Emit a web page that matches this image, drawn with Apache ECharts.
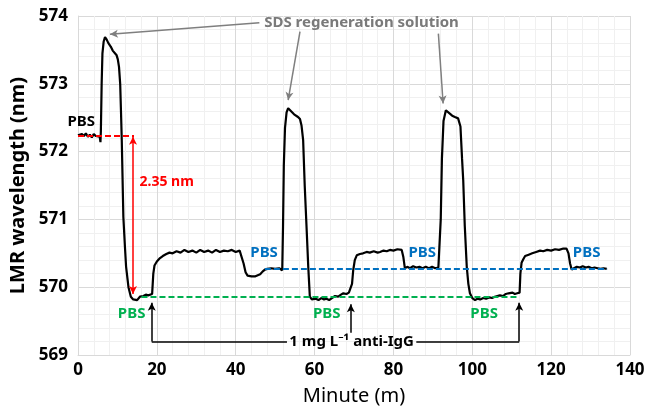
<!DOCTYPE html>
<html>
<head>
<meta charset="utf-8">
<script src="https://cdn.jsdelivr.net/npm/echarts@6/dist/echarts.min.js"></script>
<style>
html,body{margin:0;padding:0;background:#fff;}
#chart{width:645px;height:406px;}
</style>
</head>
<body>
<div id="chart"></div>
<script>
// ---- data ----
const minutes = [0,0.5,1,1.5,2,2.5,3,3.5,4,4.5,5,5.5,5.7,5.8,6.0,6.2,6.5,6.85,7.2,7.7,8.3,8.8,9.3,9.8,10.1,10.4,10.7,10.9,11.1,11.5,11.9,12.2,12.8,13.4,14.0,14.5,15.0,15.7,16.2,16.6,17.2,17.8,18.3,18.8,19.1,19.4,20.0,20.8,21.5,22.4,23.2,24,25,26,27,28,29,30,31,32,33,34,35,36,37,38,39,40,41,41.5,42.0,42.5,43.0,43.5,44,44.5,45,45.5,46.2,46.8,47.4,48,48.5,49,49.5,50,50.5,51,51.5,51.8,52.0,52.2,52.5,52.9,53.3,53.8,54.3,54.8,55.3,55.8,56.3,56.7,57.1,57.5,58.0,58.4,58.8,59.3,59.7,60.3,61,61.7,62.4,63,63.7,64.4,65.2,66,66.7,67.3,68.1,68.7,69.2,69.5,69.8,70.2,70.7,71.5,72.3,73.2,74,75,76,76.6,77.5,78.3,79.1,80,81,82.1,82.5,82.9,83.5,84.2,85,85.8,86.6,87.4,88.2,89,89.8,90.6,91.4,91.8,92.0,92.3,92.7,93.3,93.8,94.3,94.9,95.6,96.4,97.0,97.4,97.7,98.1,98.6,99.0,99.4,100.0,100.7,101.3,102,102.8,103.5,104.3,105,105.7,106.2,107,107.8,108.5,109.2,109.6,110.2,110.8,111.4,112.0,112.2,112.5,113.0,113.4,114.3,115.2,116.2,117.2,118,119,120,121,122,123.1,123.9,124.4,124.8,125.2,125.8,126.5,127.3,128,128.8,129.5,130.3,131,131.8,132.5,133.3,134.1];
const wavelength = [572.24,572.22,572.26,572.23,572.27,572.22,572.25,572.21,572.26,572.23,572.25,572.22,572.14,572.3,573.0,573.45,573.62,573.69,573.66,573.6,573.55,573.49,573.47,573.42,573.36,573.25,573.0,572.6,572.17,571.04,570.6,570.30,570.0,569.86,569.82,569.80,569.81,569.86,569.88,569.87,569.89,569.88,569.89,569.9,570.2,570.32,570.38,570.43,570.46,570.49,570.51,570.5,570.53,570.51,570.55,570.52,570.54,570.51,570.55,570.52,570.54,570.51,570.55,570.52,570.54,570.53,570.55,570.52,570.54,570.52,570.35,570.22,570.17,570.15,570.16,570.14,570.16,570.17,570.19,570.23,570.26,570.27,570.25,570.28,570.26,570.27,570.25,570.28,570.26,570.25,570.9,571.8,572.35,572.58,572.64,572.61,572.58,572.55,572.53,572.51,572.48,572.38,572.17,571.5,570.84,570.3,569.86,569.82,569.81,569.83,569.81,569.84,569.82,569.83,569.81,569.84,569.87,569.86,569.89,569.91,569.9,569.92,569.91,570.05,570.25,570.4,570.47,570.49,570.5,570.52,570.51,570.53,570.51,570.52,570.54,570.53,570.55,570.54,570.56,570.55,570.45,570.28,570.3,570.28,570.31,570.29,570.3,570.28,570.3,570.28,570.3,570.28,570.29,570.3,571.0,571.9,572.45,572.61,572.59,572.56,572.53,572.51,572.49,572.37,571.9,571.58,570.9,570.30,570.05,569.91,569.84,569.81,569.83,569.82,569.84,569.83,569.85,569.84,569.86,569.86,569.88,569.87,569.9,569.91,569.93,569.92,569.9,569.91,569.92,570.2,570.36,570.42,570.46,570.48,570.5,570.52,570.54,570.53,570.55,570.54,570.56,570.55,570.57,570.57,570.5,570.35,570.26,570.28,570.3,570.29,570.31,570.29,570.3,570.28,570.29,570.28,570.27,570.28,570.27];

// axis ticks
const xTicks = [0,20,40,60,80,100,120,140];
const yTicks = [569,570,571,572,573,574];

// annotation anchors (data units)
const pbsBlackLabel = [[0.8,572.44]];
const pbsGreenLabels = [[13.6,569.61],[63.1,569.61],[103.0,569.61]];
const pbsBlueLabels = [[47.2,570.51],[87.3,570.51],[129.0,570.51]];
const redBaseline = [[0,572.24],[14.2,572.24]];
const shiftArrow = [[13.95,572.22],[13.95,569.9]];
const shiftLabel = [15.6,571.55];
const greenBaseline = [[16.1,569.86],[111.6,569.86]];
const blueBaseline = [[47.4,570.27],[134.2,570.27]];
const sdsLabel = [71.9,573.9];
const sdsArrows = [[[46.0,573.9],[8.1,573.73]],[[56.3,573.77],[53.3,572.76]],[[91.4,573.74],[92.6,572.71]]];
const iggLabel = [69.4,569.2];
const iggBracket = [[53.0,569.2],[18.7,569.2],[85.8,569.2],[111.9,569.2]];
const iggArrows = [[[18.7,569.2],[18.7,569.77]],[[69.2,569.33],[69.2,569.75]],[[111.9,569.2],[111.9,569.77]]];

const FONT = 'Noto Sans';
const curve = minutes.map((m,i)=>[m,wavelength[i]]);

function textPoint(coord, text, color, size, align){
  return {coord: coord, symbol:'circle', symbolSize:0.01,
    label:{show:true, formatter:text, position:'inside', align: align||'center', verticalAlign:'middle',
      color: color, fontSize: size, fontWeight:'bold', fontFamily: FONT}};
}
function seg(a,b,color,width,type,endSym){
  return [{coord:a, symbol:'none', lineStyle:{color:color,width:width,type:type}},
          {coord:b, symbol: endSym||'none', symbolSize:[6,8]}];
}

const markLines = [];
markLines.push(seg(redBaseline[0],redBaseline[1],'#ff0000',2,[6,3]));
markLines.push([{coord:shiftArrow[0], symbol:'arrow', symbolSize:[6,8], lineStyle:{color:'#ff0000',width:1.5,type:'solid'}},{coord:shiftArrow[1], symbol:'arrow', symbolSize:[6,8]}]);
markLines.push(seg(greenBaseline[0],greenBaseline[1],'#00b050',2,[6,3]));
markLines.push(seg(blueBaseline[0],blueBaseline[1],'#0070c0',2,[6,3]));
sdsArrows.forEach(a=>markLines.push(seg(a[0],a[1],'#7f7f7f',1.5,'solid','arrow')));
markLines.push(seg(iggBracket[0],iggBracket[1],'#000',1.5,'solid'));
markLines.push(seg(iggBracket[2],iggBracket[3],'#000',1.5,'solid'));
iggArrows.forEach(a=>markLines.push(seg(a[0],a[1],'#000',1.5,'solid','arrow')));

const markPoints = [];
pbsBlackLabel.forEach(c=>markPoints.push(textPoint(c,'PBS','#000',15)));
pbsGreenLabels.forEach(c=>markPoints.push(textPoint(c,'PBS','#00b050',15)));
pbsBlueLabels.forEach(c=>markPoints.push(textPoint(c,'PBS','#0070c0',15)));
markPoints.push(textPoint(shiftLabel,'2.35 nm','#ff0000',14,'left'));
markPoints.push(textPoint(sdsLabel,'SDS regeneration solution','#7a7a7a',15));
markPoints.push(textPoint(iggLabel,'1 mg L\u207B\u00B9 anti-IgG','#000',15));

const chart = echarts.init(document.getElementById('chart'), null, {renderer:'canvas'});
chart.setOption({
  animation:false,
  backgroundColor:'#fff',
  grid:{left:78,right:15,top:16,bottom:51,containLabel:false,outerBoundsMode:'none'},
  xAxis:{type:'value',min:xTicks[0],max:xTicks[xTicks.length-1],interval:xTicks[1]-xTicks[0],
    name:'Minute (m)',nameLocation:'middle',nameGap:31,
    nameTextStyle:{fontFamily:FONT,fontSize:20,color:'#000'},
    axisLine:{show:true,lineStyle:{color:'#d9d9d9',width:1}},axisTick:{show:false},
    axisLabel:{fontFamily:FONT,fontSize:17,fontWeight:'bold',color:'#000',margin:7},
    splitLine:{show:true,lineStyle:{color:'#d9d9d9',width:1}},
    minorTick:{show:false,splitNumber:5},
    minorSplitLine:{show:true,lineStyle:{color:'#f0f0f0',width:1}}},
  yAxis:{type:'value',min:yTicks[0],max:yTicks[yTicks.length-1],interval:yTicks[1]-yTicks[0],
    name:'LMR wavelength (nm)',nameLocation:'middle',nameGap:49,
    nameTextStyle:{fontFamily:FONT,fontSize:20,fontWeight:'bold',color:'#000'},
    axisLine:{show:true,lineStyle:{color:'#d9d9d9',width:1}},axisTick:{show:false},
    axisLabel:{fontFamily:FONT,fontSize:17,fontWeight:'bold',color:'#000',margin:10},
    splitLine:{show:true,lineStyle:{color:'#d9d9d9',width:1}},
    minorTick:{show:false,splitNumber:5},
    minorSplitLine:{show:true,lineStyle:{color:'#f0f0f0',width:1}}},
  series:[
    {type:'line',data:curve,showSymbol:false,symbol:'none',z:2,
     lineStyle:{color:'#000',width:2.2},silent:true},
    {type:'line',data:[],z:5,silent:true,
     markLine:{silent:true,animation:false,symbol:['none','none'],label:{show:false},data:markLines},
     markPoint:{silent:true,animation:false,data:markPoints}}
  ]
});
</script>
</body>
</html>
